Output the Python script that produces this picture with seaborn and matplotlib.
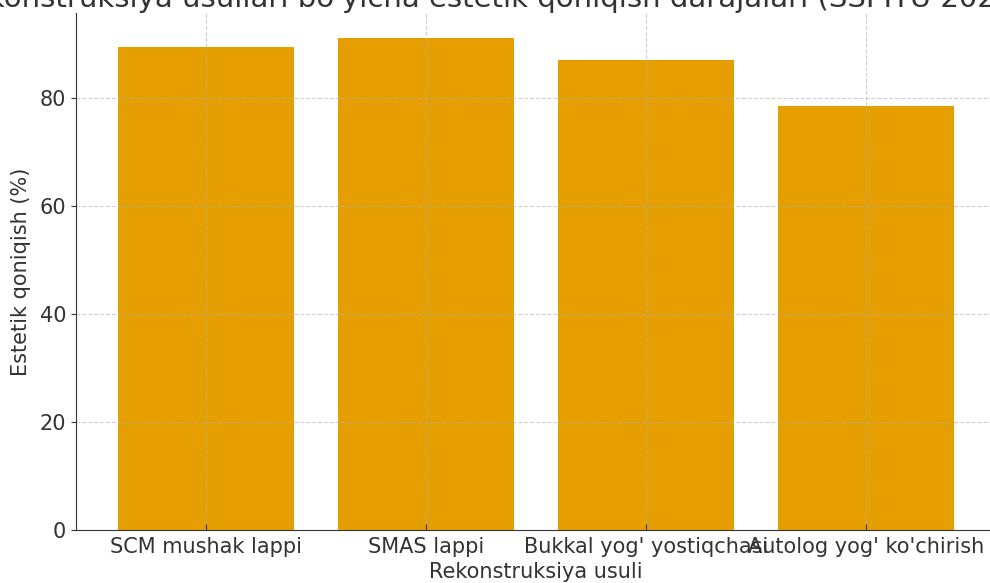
import matplotlib
matplotlib.use("Agg")
import matplotlib.pyplot as plt
import seaborn as sns
import pandas as pd

# -------------------- DATA --------------------

methods = ["SCM mushak lappi", "SMAS lappi", "Bukkal yog' yostiqchasi", "Autolog yog' ko'chirish"]
satisfaction = [89.4, 91.1, 87.0, 78.5]

title = "Rekonstruksiya usullari bo'yicha estetik qoniqish darajalari (SSPITU 2024)"

df = pd.DataFrame({"method": methods, "satisfaction": satisfaction})

# -------------------- PLOT --------------------

plt.rcParams["font.family"] = ["DejaVu Sans"]

fig = plt.figure(figsize=(9.9, 5.83), dpi=100)
ax = fig.add_axes([76 / 990, 53 / 583, 920 / 990, 517 / 583])

sns.barplot(data=df, x="method", y="satisfaction", color="#E69F00",
            saturation=1, width=0.8, ax=ax)

ax.set_xlim(-0.59, 3.59)
ax.set_ylim(0, 95.66)
ax.set_yticks([0, 20, 40, 60, 80])

ax.grid(True, linestyle="--", color="#b0b0b0", alpha=0.6, linewidth=0.8)
ax.set_axisbelow(False)
for bar in ax.patches:
    bar.set_zorder(1)

ax.spines["top"].set_visible(False)
ax.spines["right"].set_visible(False)
ax.spines["left"].set_color("#333333")
ax.spines["bottom"].set_color("#333333")

ax.tick_params(axis="both", labelsize=15, colors="#333333")
ax.tick_params(axis="x", direction="in", length=4, pad=5)

ax.set_xlabel("Rekonstruksiya usuli", fontsize=15, color="#333333", labelpad=4)
ax.set_ylabel("Estetik qoniqish (%)", fontsize=15, color="#333333", labelpad=6)
# title is wider than the canvas in the reference, so it runs off both edges
ax.set_title(title, fontsize=21, color="#333333", pad=2, x=0.448)

fig.savefig("out.png", dpi=100)
